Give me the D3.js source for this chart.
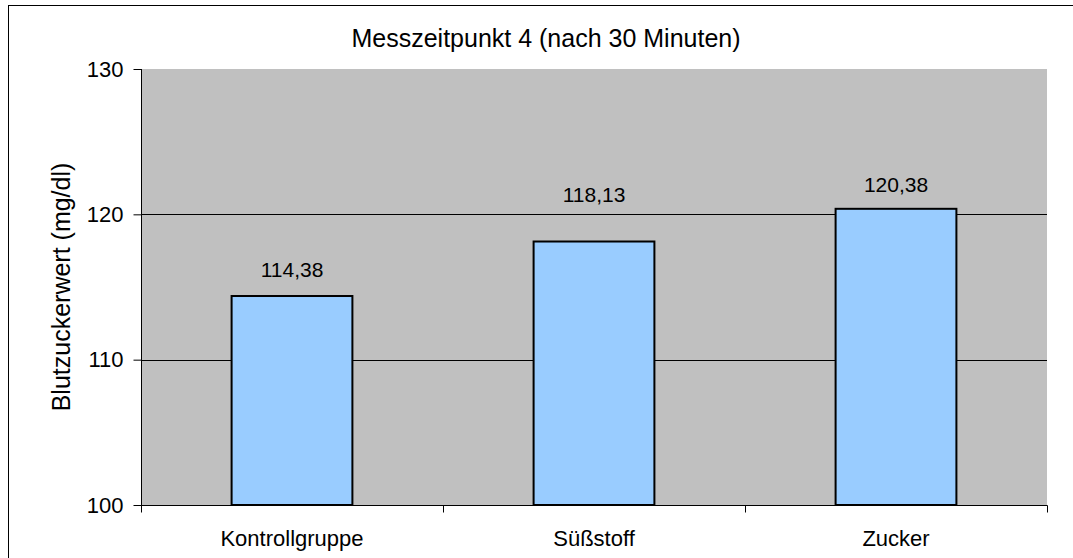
<!DOCTYPE html>
<meta charset="utf-8">
<html>
<head>
<script src="https://cdn.jsdelivr.net/npm/d3@7"></script>
<style>
body { margin: 0; background: #fff; }
text { font-family: "Liberation Sans", Arial, sans-serif; fill: #000; }
</style>
</head>
<body>
<script>

// data
var categories = ["Kontrollgruppe", "Süßstoff", "Zucker"];
var values = [114.38, 118.13, 120.38];
var yTicks = [100, 110, 120, 130];
var chartTitle = "Messzeitpunkt 4 (nach 30 Minuten)";
var yTitle = "Blutzuckerwert (mg/dl)";

// label gap above bar top (the middle one was nudged up in the original)
var labelGap = [19, 40, 17];

var width = 1073, height = 558;
var margin = {left: 141, right: 26, top: 69, bottom: 53};

var svg = d3.select("body").append("svg")
    .attr("width", width)
    .attr("height", height);

// outer chart border (cropped at right / bottom)
svg.append("rect")
    .attr("x", 8.5).attr("y", 5.5)
    .attr("width", 1100).attr("height", 600)
    .attr("fill", "#fff")
    .attr("stroke", "#000")
    .attr("stroke-width", 1);

var x = d3.scaleBand()
    .domain(categories)
    .range([margin.left, width - margin.right])
    .paddingInner(0.6)
    .paddingOuter(0.3);

var y = d3.scaleLinear()
    .domain([100, 130])
    .range([height - margin.bottom, margin.top]);

// plot background
svg.append("rect")
    .attr("x", margin.left)
    .attr("y", margin.top)
    .attr("width", width - margin.right - margin.left)
    .attr("height", y(100) - y(130))
    .attr("fill", "#c0c0c0");

// gridlines
svg.append("g")
  .selectAll("line")
  .data(yTicks.filter(function(d){ return d > 100 && d < 130; }))
  .enter().append("line")
    .attr("x1", margin.left).attr("x2", width - margin.right)
    .attr("y1", function(d){ return Math.round(y(d)) + 0.5; })
    .attr("y2", function(d){ return Math.round(y(d)) + 0.5; })
    .attr("stroke", "#000").attr("stroke-width", 1);

// bars
svg.append("g")
  .selectAll("rect")
  .data(values)
  .enter().append("rect")
    .attr("x", function(d, i){ return x(categories[i]); })
    .attr("y", function(d){ return y(d); })
    .attr("width", x.bandwidth())
    .attr("height", function(d){ return y(100) - y(d); })
    .attr("fill", "#99ccff")
    .attr("stroke", "#000")
    .attr("stroke-width", 2);

// value labels
svg.append("g")
  .selectAll("text")
  .data(values)
  .enter().append("text")
    .attr("x", function(d, i){ return x(categories[i]) + x.bandwidth() / 2; })
    .attr("y", function(d, i){ return y(d) - labelGap[i]; })
    .attr("text-anchor", "middle")
    .style("font-size", "21px")
    .text(function(d){ return d.toFixed(2).replace(".", ","); });

// y axis
var yAxis = d3.axisLeft(y)
    .tickValues(yTicks)
    .tickSize(8)
    .tickPadding(10);

var gy = svg.append("g")
    .attr("transform", "translate(" + (margin.left + 0.5) + ",0)")
    .call(yAxis);
gy.select(".domain").attr("stroke", "#000").attr("d", "M0," + y(130) + "V" + (y(100) + 0.5));
gy.selectAll(".tick line").attr("stroke", "#000");
gy.selectAll(".tick text")
    .style("font-size", "22px")
    .style("font-family", "Liberation Sans, Arial, sans-serif")
    .attr("fill", "#000");

// x axis, ticks at category boundaries
var gx = svg.append("g")
    .attr("transform", "translate(0," + (y(100) + 0.5) + ")");
gx.append("line")
    .attr("x1", margin.left).attr("x2", width - margin.right + 0.5)
    .attr("stroke", "#000");
var bounds = d3.range(categories.length + 1).map(function(i){ return margin.left + i * (width - margin.right - margin.left) / categories.length; });
gx.selectAll(".xt")
  .data(bounds)
  .enter().append("line")
    .attr("class", "xt")
    .attr("x1", function(d){ return Math.round(d) + 0.5; })
    .attr("x2", function(d){ return Math.round(d) + 0.5; })
    .attr("y1", 0).attr("y2", 7)
    .attr("stroke", "#000");
gx.selectAll(".xl")
  .data(categories)
  .enter().append("text")
    .attr("class", "xl")
    .attr("x", function(d){ return x(d) + x.bandwidth() / 2; })
    .attr("y", 40)
    .attr("text-anchor", "middle")
    .style("font-size", "22px")
    .text(function(d){ return d; });

// titles
svg.append("text")
    .attr("x", 546)
    .attr("y", 47)
    .attr("text-anchor", "middle")
    .style("font-size", "25px")
    .text(chartTitle);

svg.append("text")
    .attr("transform", "translate(70," + ((y(100) + y(130)) / 2) + ") rotate(-90)")
    .attr("text-anchor", "middle")
    .style("font-size", "25px")
    .text(yTitle);

</script>
</body>
</html>
